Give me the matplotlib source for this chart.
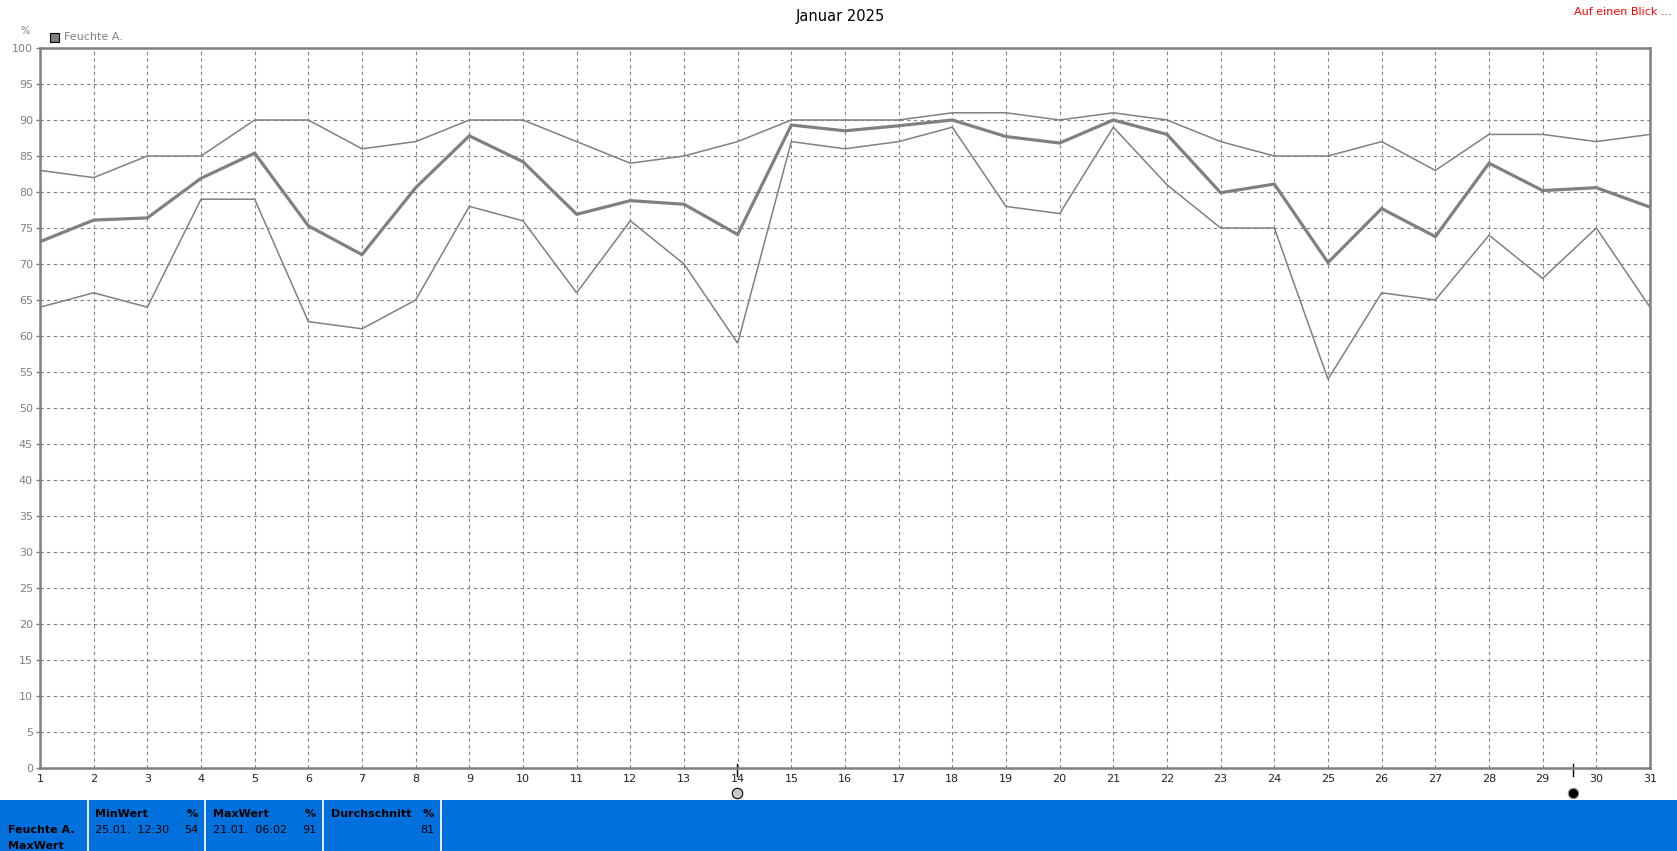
import numpy as np
import matplotlib
matplotlib.use('Agg')
import matplotlib.pyplot as plt
from matplotlib import transforms
from matplotlib.patches import Rectangle

days = list(range(1, 32))

# Tageswerte Feuchte aussen (%)
hum_max = [83, 82, 85, 85, 90, 90, 86, 87, 90, 90, 87, 84, 85, 87, 90, 90,
           90, 91, 91, 90, 91, 90, 87, 85, 85, 87, 83, 88, 88, 87, 88]
hum_avg = [73.1, 76.1, 76.4, 81.9, 85.4, 75.3, 71.3, 80.6, 87.8, 84.2, 76.9,
           78.8, 78.3, 74.1, 89.3, 88.5, 89.2, 90.0, 87.7, 86.8, 90.0, 88.0,
           79.9, 81.1, 70.2, 77.7, 73.8, 84.0, 80.2, 80.6, 77.9]
hum_min = [64, 66, 64, 79, 79, 62, 61, 65, 78, 76, 66, 76, 70, 59, 87, 86,
           87, 89, 78, 77, 89, 81, 75, 75, 54, 66, 65, 74, 68, 75, 64]

y_ticks = list(range(0, 101, 5))

# Mondphasen (Vollmond, Neumond) als Tag mit Bruchteil
full_moon = 13.98
new_moon = 29.57

# Tabelle unten
stat_labels = ['MinWert', 'MaxWert', 'Durchschnitt']
stat_when = ['25.01.  12:30', '21.01.  06:02', '']
stat_vals = ['54', '91', '81']

W, H = 1677, 851
fig = plt.figure(figsize=(W / 100, H / 100), dpi=100)
fig.patch.set_facecolor('white')

gray = '#808080'
ax = fig.add_axes([40 / W, (H - 768) / H, (1650 - 40) / W, (768 - 48) / H])
ax.plot(days, hum_max, color=gray, lw=1.1, solid_joinstyle='miter')
ax.plot(days, hum_min, color=gray, lw=1.1, solid_joinstyle='miter')
ax.plot(days, hum_avg, color=gray, lw=2.3, solid_joinstyle='miter')

ax.set_xlim(1, 31)
ax.set_ylim(0, 100)
ax.set_xticks(days)
ax.set_yticks(y_ticks)
ax.grid(True, color=gray, lw=0.8, linestyle=(0, (3, 3)))
ax.tick_params(axis='both', colors=gray, labelsize=8, length=3, width=1)
ax.tick_params(axis='x', labelcolor='#222222', pad=4, length=0)
ax.tick_params(axis='y', labelcolor=gray, pad=2)
for s in ax.spines.values():
    s.set_color(gray)
    s.set_linewidth(1.8)

# Mondsymbole
trans = transforms.blended_transform_factory(ax.transData, ax.transAxes)
for d in [full_moon, new_moon]:
    ax.plot([d, d], [0.006, -0.011], color='black', lw=1, transform=trans, clip_on=False)
ax.plot([full_moon], [-0.035], marker='o', ms=7.5, mfc='#c8c8c8', mec='black', mew=0.8,
        transform=trans, clip_on=False)
ax.plot([new_moon], [-0.035], marker='o', ms=7.5, mfc='black', mec='#999999', mew=0.8,
        transform=trans, clip_on=False)

# Texte oben
fig.text(840 / W, 1 - 16 / H, 'Januar 2025', ha='center', va='center', fontsize=10.5, color='black')
fig.text(1672 / W, 1 - 12 / H, 'Auf einen Blick ...', ha='right', va='center', fontsize=8, color='red')
fig.text(25 / W, 1 - 31 / H, '%', ha='center', va='center', fontsize=7, color=gray)
fig.patches.append(Rectangle((50 / W, 1 - 42 / H), 9 / W, 9 / H, transform=fig.transFigure,
                             facecolor=gray, edgecolor='black', lw=0.8))
fig.text(64 / W, 1 - 37.5 / H, 'Feuchte A.', ha='left', va='center', fontsize=8, color=gray)

# blaue Tabelle
blue = '#0070dc'
fig.patches.append(Rectangle((0, 0), 1, 51 / H, transform=fig.transFigure,
                             facecolor=blue, edgecolor='none'))
for xs in [87.7, 205, 322.7, 441]:
    fig.patches.append(Rectangle((xs / W - 1 / W, 0), 2 / W, 51 / H, transform=fig.transFigure,
                                 facecolor='#e8e8e8', edgecolor='none'))
fig.text(8 / W, 1 - 830 / H, 'Feuchte A.', ha='left', va='center', fontsize=8,
         fontweight='bold', color='black')
fig.text(8 / W, 1 - 846 / H, 'MaxWert', ha='left', va='center', fontsize=8,
         fontweight='bold', color='black')
col_x = [95, 212.7, 330.7]
col_r = [198, 316, 434]
for i in range(3):
    fig.text(col_x[i] / W, 1 - 814 / H, stat_labels[i], ha='left', va='center', fontsize=8,
             fontweight='bold', color='black')
    fig.text(col_r[i] / W, 1 - 814 / H, '%', ha='right', va='center', fontsize=8,
             fontweight='bold', color='black')
    fig.text(col_x[i] / W, 1 - 830 / H, stat_when[i], ha='left', va='center', fontsize=8,
             color='black')
    fig.text(col_r[i] / W, 1 - 830 / H, stat_vals[i], ha='right', va='center', fontsize=8,
             color='black')

fig.savefig('out.png', dpi=100, facecolor='white')
